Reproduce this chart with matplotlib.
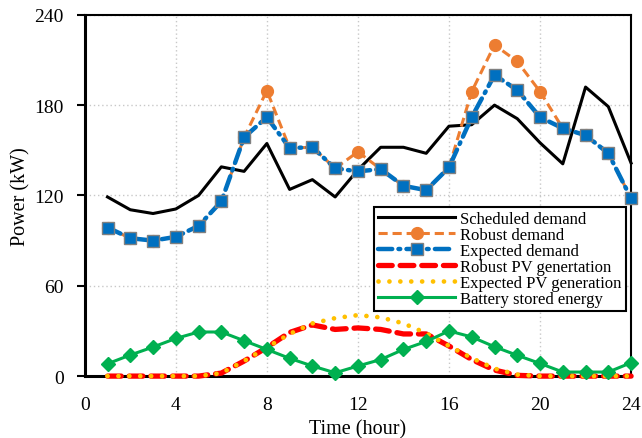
import numpy as np
import matplotlib.pyplot as plt

plt.rcParams['font.family'] = ['Liberation Serif', 'DejaVu Serif']

hours = np.arange(1, 25)

scheduled = [119, 110.5, 108, 111, 120, 139, 136, 154.5, 124, 130.5, 119, 137,
             152, 152, 148, 166, 167, 180, 171, 155, 141, 192, 179, 141.5]
expected = [98.7, 91.6, 90, 92.5, 99.8, 116, 158.6, 172, 151.5, 152, 138, 136,
            137.5, 126.4, 123.5, 138.6, 172, 200, 190, 172, 164.6, 160, 148, 118]
robust = [98.7, 91.6, 90, 92.5, 99.8, 116, 158.6, 189.6, 151.5, 152, 138, 149,
          137.5, 126.4, 123.5, 138.6, 189, 220, 209, 189, 164.6, 160, 148, 118]
robust_pv = [0, 0, 0, 0, 0, 2, 10, 19, 29, 34, 31, 32,
             31, 28, 28, 20, 11, 4, 0.5, 0, 0, 0, 0, 0]
expected_pv = [0, 0, 0, 0, 0, 2, 10, 19, 28, 35, 38.5, 40.5,
               39, 35, 28.5, 20, 12, 5, 1, 0, 0, 0, 0, 0]
battery = [8.2, 14, 19.3, 25, 29.3, 29.3, 23.5, 17.7, 11.8, 6.7, 2.2, 6.7,
           11, 17.7, 23, 30, 26, 19.5, 13.8, 8.4, 2.7, 2.7, 2.7, 8.9]

fig = plt.figure(figsize=(6.42, 4.39), dpi=100)
ax = fig.add_axes([0.132, 0.141, 0.851, 0.823])

ax.plot(hours, scheduled, color='black', lw=2.2, label='Scheduled demand',
        zorder=3, clip_on=False)
ax.plot(hours, robust, color='#ED7D31', lw=2.2, dashes=(3, 1.6), marker='o',
        ms=8.5, label='Robust demand', zorder=4, clip_on=False)
ax.plot(hours, expected, color='#0070C0', lw=3.2, dashes=(3.2, 1.4, 0.4, 1.4),
        dash_capstyle='round', marker='s', ms=8.5, mec='#808080', mew=1,
        label='Expected demand', zorder=5, clip_on=False)
ax.plot(hours, robust_pv, color='#FF0000', lw=3.8, dashes=(2.6, 1.5),
        dash_capstyle='round', label='Robust PV genertation', zorder=6,
        clip_on=False)
ax.plot(hours, expected_pv, color='#FFC000', lw=3.4, dashes=(0.01, 2.3),
        dash_capstyle='round', label='Expected PV generation', zorder=7,
        clip_on=False)
ax.plot(hours, battery, color='#00B050', lw=2.2, marker='D', ms=7,
        label='Battery stored energy', zorder=8, clip_on=False)

ax.set_xlim(0, 24)
ax.set_ylim(0, 240)
ax.set_xticks(range(0, 25, 4))
ax.set_yticks(range(0, 241, 60))
ax.tick_params(axis='both', labelsize=14)
ax.tick_params(axis='y', direction='out', length=6, width=1.5, pad=9)
ax.tick_params(axis='x', length=0, pad=14)
ax.grid(True, color='#c8c8c8', linestyle=(0, (1, 2)), lw=1)
ax.set_axisbelow(True)

for side in ['left', 'bottom']:
    ax.spines[side].set_linewidth(2.2)
for side in ['top', 'right']:
    ax.spines[side].set_linewidth(1.5)

ax.set_xlabel('Time (hour)', fontsize=14.5, labelpad=5)
ax.set_ylabel('Power (kW)', fontsize=14.5, labelpad=3)

leg = ax.legend(loc='lower right', bbox_to_anchor=(0.99, 0.18), fontsize=12,
                frameon=True, fancybox=False, edgecolor='black', framealpha=1,
                handlelength=4.6, labelspacing=0.0, borderpad=0.25,
                handletextpad=0.3, borderaxespad=0)
leg.get_frame().set_linewidth(1.5)

fig.savefig('out.png', dpi=100)
